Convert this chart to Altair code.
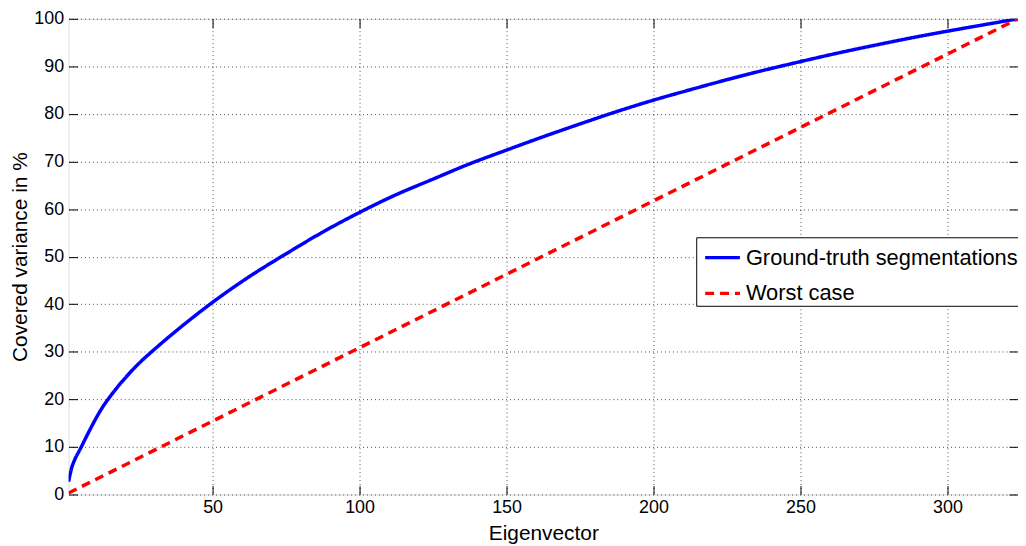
import altair as alt
import pandas as pd

# Ground-truth segmentations curve
gt_x = [1, 2, 3, 5, 8, 12, 16, 20, 25, 30, 40, 50, 62, 75, 87, 100, 112, 125, 137,
        150, 162, 175, 187, 200, 212, 225, 237, 250, 262, 275, 287, 300, 312, 324]
gt_y = [2.7, 5.5, 7.2, 9.6, 13.3, 17.8, 21.3, 24.3, 27.6, 30.4, 35.6, 40.4, 45.6, 50.6,
        55.0, 59.3, 62.9, 66.3, 69.4, 72.4, 75.1, 77.9, 80.4, 82.9, 85.0, 87.2, 89.1,
        91.0, 92.7, 94.4, 95.9, 97.4, 98.7, 100.0]
# Worst case (straight line)
wc_x = [1, 324]
wc_y = [0.3, 100]

series = ["Ground-truth segmentations", "Worst case"]
colors = ["#0000ff", "#ff0000"]
x_ticks = [50, 100, 150, 200, 250, 300]
y_ticks = [0, 10, 20, 30, 40, 50, 60, 70, 80, 90, 100]

df = pd.concat([
    pd.DataFrame({"x": gt_x, "y": gt_y, "s": series[0]}),
    pd.DataFrame({"x": wc_x, "y": wc_y, "s": series[1]}),
], ignore_index=True)

FONT = "Liberation Sans"
xs = alt.Scale(domain=[1, 324], nice=False, zero=False)
ys = alt.Scale(domain=[0, 100], nice=False, zero=False)

common_axis = dict(offset=-9, tickSize=9, tickColor="black", domain=False,
                   labelFont=FONT, labelFontSize=18, labelColor="black",
                   titleFont=FONT, titleFontSize=21, titleFontWeight="normal",
                   titleColor="black", gridColor="#222222", gridDash=[1, 3],
                   gridOpacity=0.8, gridWidth=1)

legend = alt.Legend(title=None, orient="none", legendX=632, legendY=220,
                    strokeColor="black", fillColor="white", padding=1,
                    cornerRadius=0, labelFont=FONT, labelFontSize=22,
                    labelColor="black", labelLimit=500, symbolType="stroke",
                    symbolSize=1225, symbolStrokeWidth=3.5, rowPadding=5,
                    symbolOffset=6, labelOffset=4)

lines = alt.Chart(df).mark_line(strokeWidth=3.5, interpolate="monotone", clip=True).encode(
    x=alt.X("x:Q", scale=xs, axis=alt.Axis(orient="bottom", values=x_ticks, grid=True,
                                            title="Eigenvector", labelPadding=4,
                                            titlePadding=6, **common_axis)),
    y=alt.Y("y:Q", scale=ys, axis=alt.Axis(orient="left", values=y_ticks, grid=True,
                                            title="Covered variance in %", labelPadding=5,
                                            titlePadding=3, **common_axis)),
    color=alt.Color("s:N", scale=alt.Scale(domain=series, range=colors), legend=legend),
    strokeDash=alt.StrokeDash("s:N", scale=alt.Scale(domain=series, range=[[1, 0], [9, 6]]),
                              legend=legend),
)

mirror = alt.Chart(df).mark_point(opacity=0).encode(
    x=alt.X("x:Q", scale=xs, axis=alt.Axis(orient="top", values=x_ticks, grid=False,
                                            labels=False, title="", **common_axis)),
    y=alt.Y("y:Q", scale=ys, axis=alt.Axis(orient="right", values=y_ticks, grid=False,
                                            labels=False, title="", **common_axis)),
)

chart = alt.layer(lines, mirror).properties(
    width=956, height=479,
    autosize=alt.AutoSizeParams(type="none"),
    padding={"left": 61, "top": 9, "right": 0, "bottom": 49},
).configure_view(stroke="black", strokeWidth=1).configure(background="white")

chart.save("out.html", embed_options={"renderer": "svg", "actions": False})
